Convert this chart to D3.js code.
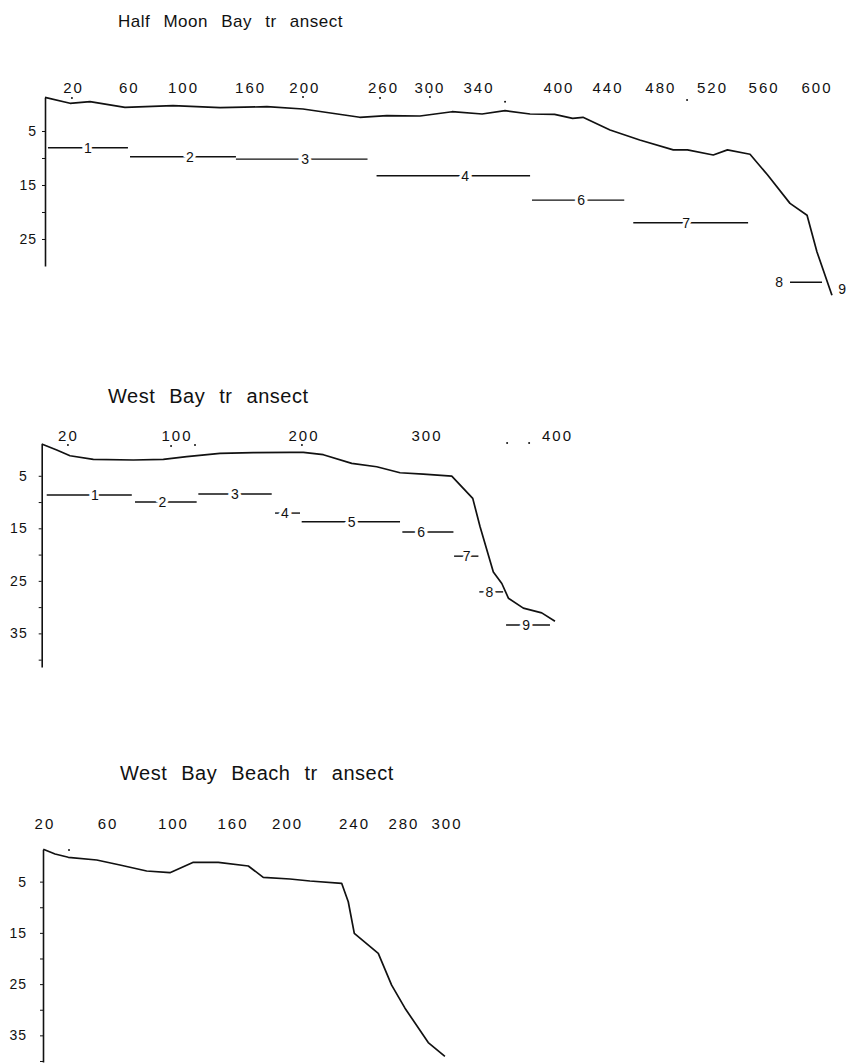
<!DOCTYPE html>
<html lang="en">
<head>
<meta charset="UTF-8">
<title>Transects</title>
<script src="https://d3js.org/d3.v7.min.js"></script>
<style>
  body { margin: 0; background: #fff; }
  svg text { font-family: "Liberation Sans", Arial, Helvetica, sans-serif; fill: #111; }
</style>
</head>
<body>
<div id="chart"></div>
<script>
// ---- Half Moon Bay ----
var hmbTickLabels = ["20","60","100","160","200","260","300","340","400","440","480","520","560","600"];
var hmbTickAt = [21.7, 65, 107, 159, 201, 262, 298, 336, 398, 436, 477, 517, 557, 598];
var hmbDots = [[20.9,-1.1],[200,-1.3],[259.7,-1.1],[298.4,-1.3],[356.6,-0.4],[497.7,-0.75]];
var hmbProfile = [[0,-1.24],[19.4,-0.13],[34.9,-0.43],[62,0.61],[99.2,0.31],[135.7,0.69],[172,0.5],
  [200,0.93],[244,2.46],[265,2.17],[290.7,2.22],[315.5,1.43],[338.8,1.85],[356.6,1.24],[376,1.85],
  [395,1.91],[409,2.65],[417,2.46],[438,4.81],[461,6.67],[487,8.5],[498,8.5],[518,9.44],[529,8.5],
  [546.5,9.31],[560,13.1],[577.5,18.4],[590.7,20.6],[598.4,27.4],[610,35.4]];
// zone label, line from, line to, depth, label position
var hmbZones = [["1",2.3,64.3,8.1,33.3],["2",65.9,148,9.76,112.4],["3",148,250,10.2,201.6],
  ["4",257,376,13.3,325.6],["6",377.5,449,17.8,415.5],["7",456,545,22.0,497],
  ["8",577.5,602.3,33,569],["9",null,null,34.3,618]];

// ---- West Bay ----
var wbTickLabels = ["20","100","200","300","400"];
var wbTickAt = [20.4, 104.7, 203.4, 299, 400.4];
var wbDots = [[20.4,-0.86],[100.5,-0.67],[119.1,-0.86],[202.2,-0.86],[361.6,-1.24],[378.7,-1.24]];
var wbProfile = [[0,-1.05],[11.7,0.1],[22,1.18],[40.1,1.87],[71.2,2.0],[94.5,1.87],[112.7,1.37],
  [138.5,0.72],[164.4,0.61],[192.9,0.53],[203.3,0.53],[218.8,0.99],[240.9,2.63],[260.3,3.28],
  [278.4,4.42],[296.5,4.67],[318.6,5.05],[334.9,9.3],[340.6,14.7],[350.9,23.3],[357.5,25.5],
  [362.6,28.3],[374.2,30.2],[388.5,31.1],[398.8,32.7]];
var wbZones = [["1",3.9,70.0,8.67,41.4],["2",72.5,120.4,10.0,93.7],["3",121.7,178.7,8.47,150.2],
  ["4",181.3,200.7,12.1,189],["5",202,278.4,13.75,240.9],["6",280.2,319.9,15.7,294.8],
  ["7",320.4,339.3,20.3,330.2],["8",340,358.5,27.1,347.8],["9",360.8,394.9,33.4,376.3]];

// ---- West Bay Beach ----
var wbbTickLabels = ["20","60","100","160","200","240","280","300"];
var wbbTickAt = [21, 65, 110.5, 152, 190, 236.6, 271, 301];
var wbbDots = [[38.1,-1.17]];
var wbbProfile = [[20.2,-1.31],[28.4,-0.39],[37.6,0.25],[57.4,0.78],[73.6,1.76],[92.2,2.93],
  [108.4,3.26],[124.7,1.23],[142.1,1.23],[163,1.95],[173.4,4.16],[192,4.49],[205.9,4.88],
  [228,5.33],[232.6,8.93],[236.8,15.1],[253.5,19.0],[262.8,25.2],[272.1,29.7],[288.3,36.4],
  [299.9,39.1]];
var wbbZones = [];

var depthTicksShort = [5, 10, 15, 20, 25];
var depthTicksLong = [5, 10, 15, 20, 25, 30, 35, 40];
var depthLabelled = [5, 15, 25, 35];

var svg = d3.select("#chart").append("svg")
    .attr("width", 848)
    .attr("height", 1063);

function drawPanel(p) {
    var x = d3.scaleLinear().domain(p.xDomain).range(p.xRange);
    var y = d3.scaleLinear().domain(p.yDomain).range(p.yRange);
    var g = svg.append("g");

    g.append("text")
        .attr("x", p.titleX)
        .attr("y", p.titleY)
        .style("font-size", p.titleSize + "px")
        .style("word-spacing", "8px")
        .style("letter-spacing", "0.5px")
        .text(p.title);

    // distance labels along the top (drawn by hand in the original, so uneven)
    var top = g.append("g")
        .attr("transform", "translate(0," + p.labelY + ")")
        .call(d3.axisTop(x)
            .tickValues(p.tickAt)
            .tickFormat(function (d, i) { return p.tickLabels[i]; })
            .tickSize(0)
            .tickPadding(0));
    top.select(".domain").remove();
    top.selectAll("text")
        .style("font-size", "15px")
        .style("letter-spacing", "2px")
        .attr("fill", "#111");

    g.selectAll(".dot")
        .data(p.dots)
        .enter().append("circle")
        .attr("cx", function (d) { return x(d[0]); })
        .attr("cy", function (d) { return y(d[1]); })
        .attr("r", 1)
        .attr("fill", "#111");

    // depth axis
    var left = g.append("g")
        .attr("transform", "translate(" + x(p.xDomain[0]) + ",0)")
        .call(d3.axisLeft(y)
            .tickValues(p.depthTicks)
            .tickFormat(function (d) { return depthLabelled.indexOf(d) >= 0 ? d : ""; })
            .tickSize(3)
            .tickSizeOuter(0)
            .tickPadding(p.yPad));
    left.select(".domain").attr("stroke", "#111").attr("stroke-width", 1.6);
    left.selectAll("line").attr("stroke", "#111").attr("stroke-width", 1);
    left.selectAll("text").style("font-size", "14px").style("letter-spacing", "1px").attr("fill", "#111");

    // bottom profile
    g.append("path")
        .datum(p.profile)
        .attr("fill", "none")
        .attr("stroke", "#111")
        .attr("stroke-width", 1.7)
        .attr("stroke-linejoin", "round")
        .attr("d", d3.line()
            .x(function (d) { return x(d[0]); })
            .y(function (d) { return y(d[1]); }));

    // zone lines with numbers
    var zones = p.zones.filter(function (d) { return d[1] !== null; });
    g.selectAll(".zone")
        .data(zones)
        .enter().append("line")
        .attr("x1", function (d) { return x(d[1]); })
        .attr("x2", function (d) { return x(d[2]); })
        .attr("y1", function (d) { return y(d[3]); })
        .attr("y2", function (d) { return y(d[3]); })
        .attr("stroke", "#111")
        .attr("stroke-width", 1.4);

    g.selectAll(".zoneLabel")
        .data(p.zones)
        .enter().append("text")
        .attr("x", function (d) { return x(d[4]); })
        .attr("y", function (d) { return y(d[3]); })
        .attr("dy", "0.36em")
        .attr("text-anchor", "middle")
        .style("font-size", "14px")
        .style("stroke", "#fff")
        .style("stroke-width", "6px")
        .style("paint-order", "stroke")
        .text(function (d) { return d[0]; });
}

drawPanel({
    title: "Half Moon Bay tr ansect", titleX: 118, titleY: 27, titleSize: 17,
    xDomain: [0, 615], xRange: [45, 838.4],
    yDomain: [-1.24, 30], yRange: [97.3, 266],
    labelY: 93, tickLabels: hmbTickLabels, tickAt: hmbTickAt, dots: hmbDots,
    depthTicks: depthTicksShort, yPad: 5,
    profile: hmbProfile, zones: hmbZones
});

drawPanel({
    title: "West Bay tr ansect", titleX: 108, titleY: 403, titleSize: 20,
    xDomain: [0, 410], xRange: [41.7, 569.4],
    yDomain: [-1.05, 41.4], yRange: [444, 667],
    labelY: 441, tickLabels: wbTickLabels, tickAt: wbTickAt, dots: wbDots,
    depthTicks: depthTicksLong, yPad: 11,
    profile: wbProfile, zones: wbZones
});

drawPanel({
    title: "West Bay Beach tr ansect", titleX: 120, titleY: 780, titleSize: 20,
    xDomain: [20, 310], xRange: [43, 459.4],
    yDomain: [-1.31, 40.2], yRange: [849.3, 1062],
    labelY: 829, tickLabels: wbbTickLabels, tickAt: wbbTickAt, dots: wbbDots,
    depthTicks: depthTicksLong, yPad: 13,
    profile: wbbProfile, zones: wbbZones
});
</script>
</body>
</html>
